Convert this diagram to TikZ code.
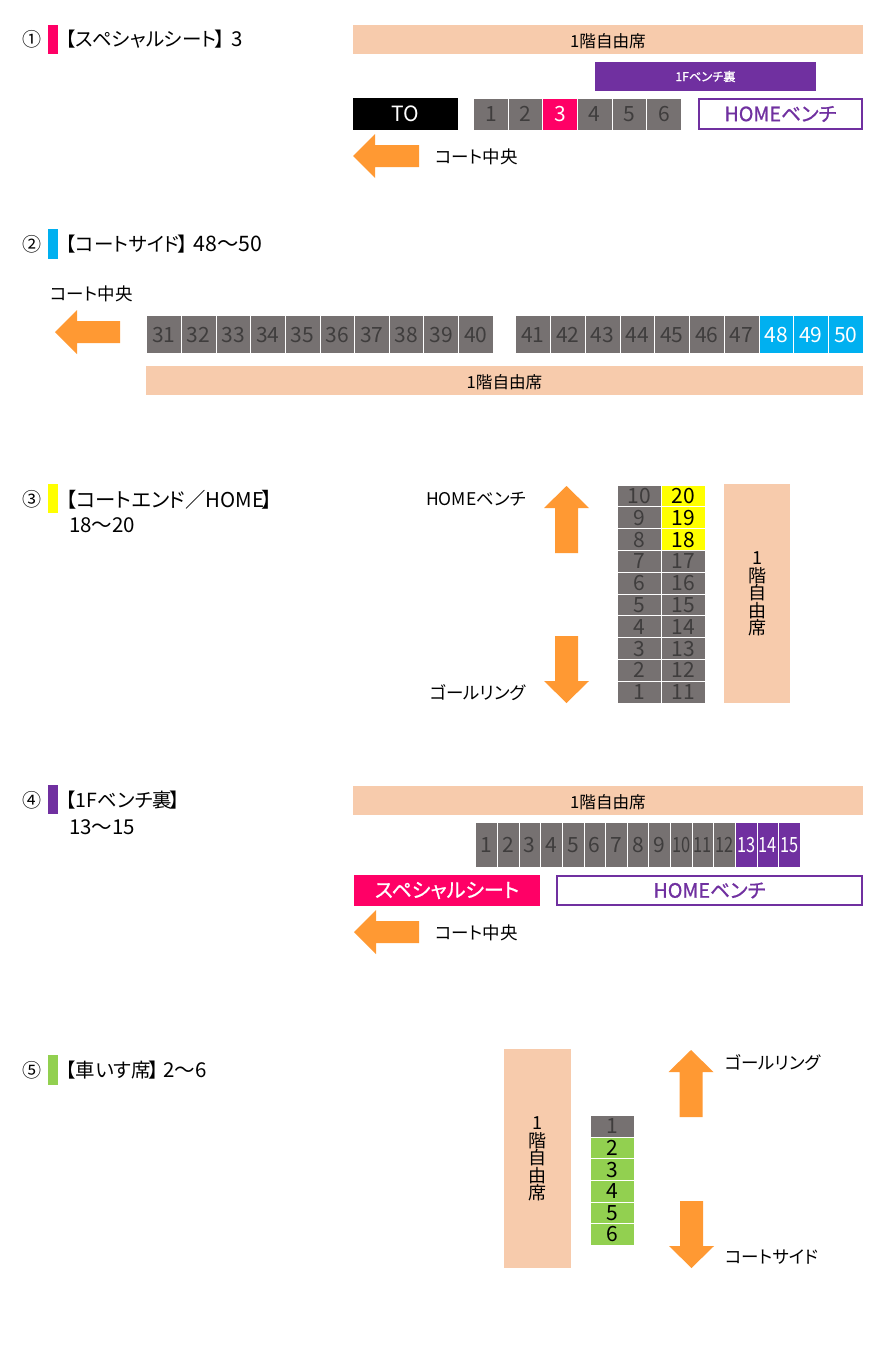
\documentclass[tikz,border=0pt]{standalone}
\usepackage{fontspec}
\setmainfont[RawFeature={+palt}]{Noto Sans CJK JP}
\newfontfamily\medf[RawFeature={+palt},FakeBold=0.9]{Noto Sans CJK JP}
\definecolor{peach}{HTML}{F7CBAC}
\definecolor{vio}{HTML}{7030A0}
\definecolor{pinkc}{HTML}{FF0066}
\definecolor{bluec}{HTML}{00B0F0}
\definecolor{yelc}{HTML}{FFFF00}
\definecolor{grnc}{HTML}{92D050}
\definecolor{orac}{HTML}{FF9933}
\definecolor{gryc}{HTML}{767171}
\definecolor{numc}{HTML}{3F3D3D}
\newcommand{\fs}[1]{\fontsize{#1}{#1}\selectfont}
\newcommand{\closeb}{\hspace{-2pt}】}
\tikzset{
  x=1pt,y=-1pt,
  box/.style={inner sep=0,outer sep=0,anchor=north west,minimum width=#1},
  peachbox/.style={box=#1,fill=peach,font=\fs{16.6},text height=15pt,text depth=0pt},
  tag/.style={inner sep=0,anchor=west,font=\fs{19.5}},
  lab/.style={inner sep=0,anchor=west,font=\fs{17.5}},
  seat/.style={inner sep=0,outer sep=0,draw=white,line width=0.7pt,font=\fs{21},text=numc,fill=gryc,text height=15pt,text depth=0pt},
  seatpink/.style={seat,fill=pinkc,text=white},
  seatblue/.style={seat,fill=bluec,text=white},
  seatvio/.style={seat,fill=vio,text=white},
  seatyel/.style={seat,fill=yelc,text=black},
  seatgrn/.style={seat,fill=grnc,text=black},
  orangearrow/.style={fill=orac,draw=none},
  vtext/.style={inner sep=0,align=center,font=\fontsize{18}{17.5}\selectfont},
}
\newcommand{\larrow}[3]{% tip x, y, tail x
  \fill[orangearrow] (#1,#2) -- ({#1+22},{#2-22}) -- ({#1+22},{#2-11}) -- (#3,{#2-11}) -- (#3,{#2+11}) -- ({#1+22},{#2+11}) -- ({#1+22},{#2+22}) -- cycle;}
\newcommand{\uarrow}[3]{% x, tip y, tail y
  \fill[orangearrow] (#1,#2) -- ({#1+22.5},{#2+22}) -- ({#1+11.5},{#2+22}) -- ({#1+11.5},#3) -- ({#1-11.5},#3) -- ({#1-11.5},{#2+22}) -- ({#1-22.5},{#2+22}) -- cycle;}
\newcommand{\darrow}[3]{% x, tip y, tail y
  \fill[orangearrow] (#1,#2) -- ({#1+22.5},{#2-22}) -- ({#1+11.5},{#2-22}) -- ({#1+11.5},#3) -- ({#1-11.5},#3) -- ({#1-11.5},{#2-22}) -- ({#1-22.5},{#2-22}) -- cycle;}
\begin{document}
\begin{tikzpicture}
\useasboundingbox (0,0) rectangle (885,1349);
\fill[white] (0,0) rectangle (885,1349);

%% --- 1 ---
\node[inner sep=0,font=\fs{19}] (n1) at (32.5,39.5) {①};
\fill[pinkc] (48,25) rectangle (58,54);
\node[tag] (t1) at (66,39.5) {【スペシャルシート\closeb{}\hspace{2.5pt} {\fs{20.5}3}};
\node[peachbox=510pt,minimum height=29pt] (p1) at (353,25) {1階自由席};
\node[box=221pt,minimum height=29pt,fill=vio,text=white,font=\fs{12.2}\medf] (b1) at (595,62) {1Fベンチ裏};
\node[box=105pt,minimum height=32pt,fill=black,text=white,font=\fs{21}] (to1) at (353,98) {TO};
\foreach \i in {1,...,6}{
  \ifnum\i=3 \def\st{seatpink}\else\def\st{seat}\fi
  \node[\st,minimum width=34.6pt,minimum height=32pt] (sa\i) at ({473.6+34.6*(\i-0.5)},114) {\i};
}
\node[inner sep=0,outer sep=0,draw=vio,line width=2pt,fill=white,text=vio,minimum width=163pt,minimum height=30pt,font=\fs{19.7}\medf] (h1) at (780.5,114) {HOMEベンチ};
\larrow{353}{156}{419}
\node[lab] (c1) at (435,157) {コート中央};

%% --- 2 ---
\node[inner sep=0,font=\fs{19}] (n2) at (32.5,244) {②};
\fill[bluec] (48,229) rectangle (58,259);
\node[tag] (t2) at (66,244) {【コートサイド\closeb{}\hspace{2pt} {\fs{21.3}48〜50}};
\node[lab] (c2) at (50,294) {コート中央};
\larrow{55}{332}{120}
\foreach \i in {31,...,40}{
  \node[seat,minimum width=34.65pt,minimum height=38pt] (sb\i) at ({146.6+34.65*(\i-30.5)},334.5) {\i};
}
\foreach \i in {41,...,50}{
  \ifnum\i>47 \def\st{seatblue}\else\def\st{seat}\fi
  \node[\st,minimum width=34.75pt,minimum height=38pt] (sb\i) at ({515.6+34.75*(\i-40.5)},334.5) {\i};
}
\node[peachbox=717pt,minimum height=29pt] (p2) at (146,366) {1階自由席};

%% --- 3 ---
\node[inner sep=0,font=\fs{19}] (n3) at (32.5,499.5) {③};
\fill[yelc] (48,484) rectangle (58,513);
\node[tag,font=\fs{20.4}] (t3) at (66,499.5) {【コートエンド／HOME\closeb};
\node[tag,font=\fs{20.5}] (t3b) at (69,525) {18〜20};
\node[lab] (c3) at (426,499) {HOMEベンチ};
\node[lab] (c3b) at (430,692.5) {ゴールリング};
\uarrow{566.5}{486}{553}
\darrow{566.5}{703}{636}
\foreach \i in {1,...,10}{
  \node[seat,minimum width=44pt,minimum height=21.8pt] (sc\i) at (639.5,{703-21.8*(\i-0.5)}) {\i};
  \pgfmathtruncatemacro\j{\i+10}
  \ifnum\i>7 \def\st{seatyel}\else\def\st{seat}\fi
  \node[\st,minimum width=44pt,minimum height=21.8pt] (sc\j) at (683.5,{703-21.8*(\i-0.5)}) {\j};
}
\node[inner sep=0,outer sep=0,anchor=north west,fill=peach,minimum width=66pt,minimum height=219pt] (p3) at (724,484) {};
\node[vtext] (p3t) at (757,594) {1\\階\\自\\由\\席};

%% --- 4 ---
\node[inner sep=0,font=\fs{19}] (n4) at (32.5,800) {④};
\fill[vio] (48,785) rectangle (58,814);
\node[tag] (t4) at (66,800) {【1Fベンチ裏\closeb};
\node[tag,font=\fs{20.5}] (t4b) at (69,827.5) {13〜15};
\node[peachbox=510pt,minimum height=29pt] (p4) at (353,786) {1階自由席};
\foreach \i in {1,...,15}{
  \ifnum\i>12 \def\st{seatvio}\else\def\st{seat}\fi
  \node[\st,minimum width=21.65pt,minimum height=45pt] (sd\i) at ({475.6+21.65*(\i-0.5)},845) {\ifnum\i>9 \scalebox{0.78}[1]{\i}\else\i\fi};
}
\node[box=186pt,minimum height=31pt,fill=pinkc,text=white,font=\fs{20}\medf] (sp4) at (354,875) {スペシャルシート};
\node[inner sep=0,outer sep=0,draw=vio,line width=2pt,fill=white,text=vio,minimum width=305pt,minimum height=29.5pt,font=\fs{19.7}\medf] (h4) at (709.5,890.5) {HOMEベンチ};
\larrow{354}{932}{419}
\node[lab] (c4) at (435,933) {コート中央};

%% --- 5 ---
\node[inner sep=0,font=\fs{19}] (n5) at (32.5,1070) {⑤};
\fill[grnc] (48,1055) rectangle (58,1085);
\node[tag] (t5) at (66,1070) {【車いす席\closeb{} {\fs{20.5}2〜6}};
\node[inner sep=0,outer sep=0,anchor=north west,fill=peach,minimum width=67pt,minimum height=219pt] (p5) at (504,1049) {};
\node[vtext] (p5t) at (537.5,1159) {1\\階\\自\\由\\席};
\foreach \i in {1,...,6}{
  \ifnum\i=1 \def\st{seat}\else\def\st{seatgrn}\fi
  \node[\st,minimum width=44pt,minimum height=21.8pt] (se\i) at (612.5,{1115.6+21.6*(\i-0.5)}) {\i};
}
\uarrow{691}{1050}{1117}
\darrow{691.5}{1268}{1201}
\node[lab] (c5) at (725,1063) {ゴールリング};
\node[lab] (c5b) at (725,1257.5) {コートサイド};
\end{tikzpicture}
\end{document}
